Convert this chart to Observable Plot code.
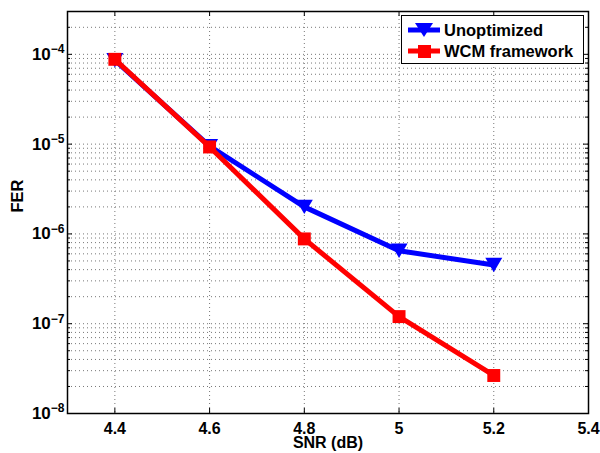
<!DOCTYPE html>
<html>
<head>
<meta charset="utf-8">
<script src="https://cdn.jsdelivr.net/npm/d3@7"></script>
<script src="https://cdn.jsdelivr.net/npm/@observablehq/plot@0.6"></script>
<style>
  html, body { margin: 0; padding: 0; background: #fff; }
  #wrap { position: relative; width: 600px; height: 453px; font-family: "Liberation Sans", Arial, Helvetica, sans-serif; }
  #legend { position: absolute; left: 401px; top: 15px; width: 181px; height: 47px; border: 1px solid #000; background: #fff; font-weight: bold; font-size: 16.5px; }
  .row { position: absolute; left: 5px; height: 20px; display: flex; align-items: center; }
  .row svg { margin-right: 3px; }
</style>
</head>
<body>
<div id="wrap"></div>
<script>
// ---- data ----
const snr = [4.4, 4.6, 4.8, 5.0, 5.2];
const ferUnoptimized = [8.6e-5, 9.5e-6, 2.0e-6, 6.5e-7, 4.5e-7];
const ferWCM = [8.8e-5, 9.3e-6, 8.8e-7, 1.2e-7, 2.65e-8];
const seriesNames = ["Unoptimized", "WCM framework"];
const seriesColors = ["#0000ff", "#ff0000"];
const xTicks = [4.4, 4.6, 4.8, 5.0, 5.2, 5.4];
const yExponents = [-8, -7, -6, -5, -4];
const xLabel = "SNR (dB)";
const yLabel = "FER";
const xDomain = [4.3, 5.4];
const yDomain = [1e-8, 3e-4];

// ---- derived ----
const yMajor = yExponents.map(e => Math.pow(10, e));
const yMinor = [];
for (const e of yExponents) for (let k = 2; k <= 9; k++) { const v = k * Math.pow(10, e); if (v < yDomain[1] * 0.999) yMinor.push(v); }
const unopt = snr.map((x, i) => ({x, y: ferUnoptimized[i]}));
const wcm = snr.map((x, i) => ({x, y: ferWCM[i]}));

const triangleDown = {
  draw(context, size) {
    const w = Math.sqrt(size) * 1.2, h = w * 0.85;
    context.moveTo(-w / 2, -h / 2);
    context.lineTo(w / 2, -h / 2);
    context.lineTo(0, h / 2);
    context.closePath();
  }
};

const W = 600, H = 453, mL = 67, mR = 12, mT = 11, mB = 40;
const innerW = W - mL - mR, innerH = H - mT - mB;
const grid = {stroke: "#777", strokeOpacity: 1, strokeWidth: 1, strokeDasharray: "1,3"};

const chart = Plot.plot({
  width: W, height: H,
  marginLeft: mL, marginRight: mR, marginTop: mT, marginBottom: mB,
  style: {fontFamily: '"Liberation Sans", Arial, Helvetica, sans-serif', fontWeight: "bold", fontSize: "16px", background: "white", color: "black"},
  x: {domain: xDomain},
  y: {type: "log", domain: yDomain},
  marks: [
    Plot.ruleX(xTicks.slice(0, -1), {x: d => d, ...grid}),
    Plot.ruleY(yMajor.concat(yMinor).filter(v => v > yDomain[0]), {y: d => d, ...grid}),
    // inward ticks
    Plot.tickX(xTicks, {x: d => d, stroke: "black", insetTop: innerH - 5}),
    Plot.tickX(xTicks, {x: d => d, stroke: "black", insetBottom: innerH - 5}),
    Plot.tickY(yMajor, {y: d => d, stroke: "black", insetRight: innerW - 5}),
    Plot.tickY(yMajor, {y: d => d, stroke: "black", insetLeft: innerW - 5}),
    Plot.tickY(yMinor, {y: d => d, stroke: "black", insetRight: innerW - 3}),
    Plot.tickY(yMinor, {y: d => d, stroke: "black", insetLeft: innerW - 3}),
    Plot.frame({stroke: "black", strokeWidth: 1.5}),
    Plot.axisX({ticks: xTicks, tickFormat: d => String(+d.toFixed(1)), tickSize: 0, tickPadding: 9, label: null, fontSize: 16}),
    Plot.axisY({ticks: yMajor, tickFormat: d => String(Math.round(Math.log10(d))), tickSize: 0, tickPadding: 3, label: null, fontSize: 17}),
    Plot.text([xLabel], {text: d => d, frameAnchor: "bottom", dy: 34, fontSize: 16, fontWeight: "bold"}),
    Plot.text([yLabel], {text: d => d, frameAnchor: "left", dx: -50, rotate: -90, fontSize: 16.5, fontWeight: "bold"}),
    // series
    Plot.line(unopt, {x: "x", y: "y", stroke: seriesColors[0], strokeWidth: 5}),
    Plot.dot(unopt, {x: "x", y: "y", symbol: triangleDown, r: 8, fill: seriesColors[0], stroke: "none"}),
    Plot.line(wcm, {x: "x", y: "y", stroke: seriesColors[1], strokeWidth: 5}),
    Plot.dot(wcm, {x: "x", y: "y", symbol: "square", r: 7.3, fill: seriesColors[1], stroke: "none"})
  ]
});

// superscript exponents on y tick labels
d3.select(chart).selectAll('g[aria-label="y-axis tick label"] text').each(function () {
  const t = d3.select(this);
  const exp = t.text().replace("-", "\u2212");
  t.text(null);
  t.append("tspan").text("10");
  t.append("tspan").attr("dy", "-0.55em").attr("font-size", "12px").text(exp);
});

const wrap = document.getElementById("wrap");
wrap.appendChild(chart);

// legend
const legend = document.createElement("div");
legend.id = "legend";
const symbolSvgs = [
  '<svg width="34" height="20"><line x1="1" y1="10" x2="33" y2="10" stroke="' + seriesColors[0] + '" stroke-width="5"/><path d="M8,3 L26,3 L17,17 Z" fill="' + seriesColors[0] + '"/></svg>',
  '<svg width="34" height="20"><line x1="1" y1="10" x2="33" y2="10" stroke="' + seriesColors[1] + '" stroke-width="5"/><rect x="11" y="4" width="13" height="13" fill="' + seriesColors[1] + '"/></svg>'
];
seriesNames.forEach((name, i) => {
  const row = document.createElement("div");
  row.className = "row";
  row.style.top = (i === 0 ? 4 : 25) + "px";
  row.innerHTML = symbolSvgs[i] + "<span>" + name + "</span>";
  legend.appendChild(row);
});
wrap.appendChild(legend);
</script>
</body>
</html>
